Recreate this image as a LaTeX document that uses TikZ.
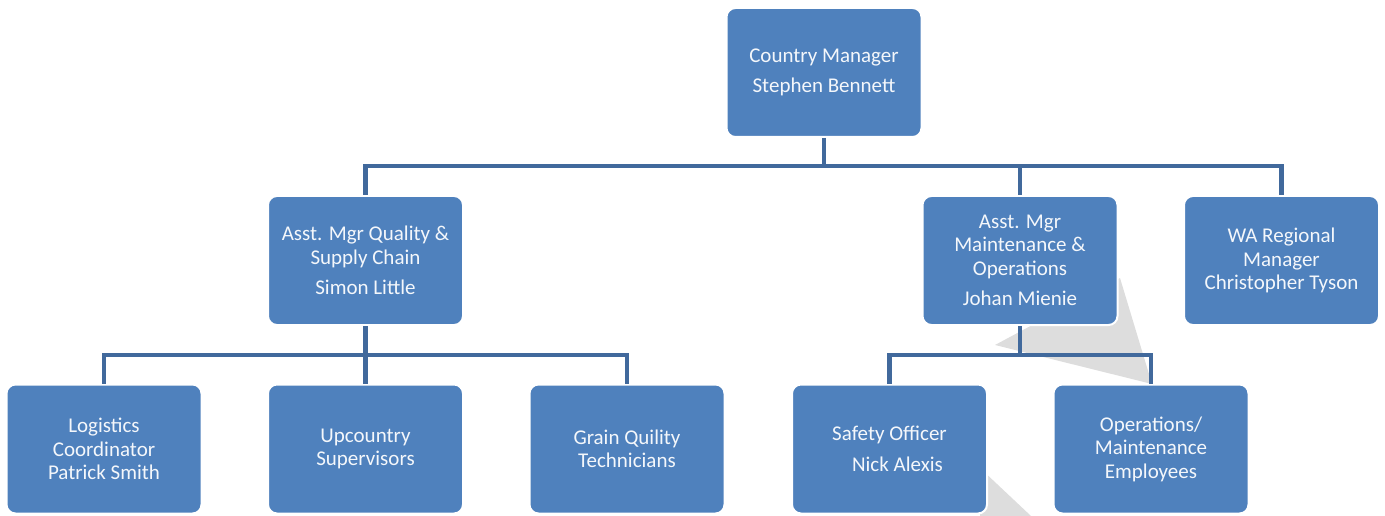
\documentclass[tikz,border=0pt]{standalone}
\usepackage{fontspec}
\setmainfont{Carlito}
\begin{document}
\begin{tikzpicture}[x=1pt,y=-1pt,
  box/.style={draw=white,line width=2pt,fill=boxblue,rounded corners=9pt,
    minimum width=195pt,minimum height=129pt,inner sep=0pt,
    text=textw,align=center,font=\fontsize{21}{23.5}\selectfont},
  conn/.style={draw=lineblue,line width=4.8pt,line join=miter}]
\definecolor{boxblue}{HTML}{4F81BD}
\definecolor{lineblue}{HTML}{41699C}
\definecolor{textw}{HTML}{F4F7FB}
\definecolor{ghostgrey}{HTML}{DDDDDD}
\useasboundingbox (0,0) rectangle (1385,516);
% faint background shapes
\fill[ghostgrey] (995,345) -- (1120,278) -- (1152,384) -- cycle;
\fill[ghostgrey] (980,468) -- (980,516) -- (1031,516) -- cycle;
% boxes
\node[box] (cm) at (824,72.5) {Country Manager\\[7pt]Stephen Bennett};
\node[box] (aq) at (365.5,260.5) {Asst. Mgr Quality \&\\Supply Chain\\[7pt]Simon Little};
\node[box] (am) at (1020,260.5) {Asst. Mgr\\Maintenance \&\\Operations\\[7pt]Johan Mienie};
\node[box] (wa) at (1281.5,260.5) {WA Regional\\Manager\\Christopher Tyson};
\node[box] (lc) at (104,449) {Logistics\\Coordinator\\Patrick Smith};
\node[box] (us) at (365.5,449) {Upcountry\\Supervisors};
\node[box] (gq) at (627,449) {Grain Quility\\Technicians};
\node[box] (so) at (889.5,449) {Safety Officer\\[7pt]\hspace*{16pt}Nick Alexis};
\node[box] (om) at (1151,449) {Operations/\\Maintenance\\Employees};
% connectors
\coordinate (b1) at (824,166);
\coordinate (b2) at (365.5,355);
\coordinate (b3) at (1020,355);
\draw[conn] (cm.south) -- (cm.south|-b1);
\draw[conn] (aq.north) -- (aq.north|-b1) -- (wa.north|-b1) -- (wa.north);
\draw[conn] (am.north) -- (am.north|-b1);
\draw[conn] (aq.south) -- (aq.south|-b2);
\draw[conn] (lc.north) -- (lc.north|-b2) -- (gq.north|-b2) -- (gq.north);
\draw[conn] (us.north) -- (us.north|-b2);
\draw[conn] (am.south) -- (am.south|-b3);
\draw[conn] (so.north) -- (so.north|-b3) -- (om.north|-b3) -- (om.north);
\end{tikzpicture}
\end{document}
